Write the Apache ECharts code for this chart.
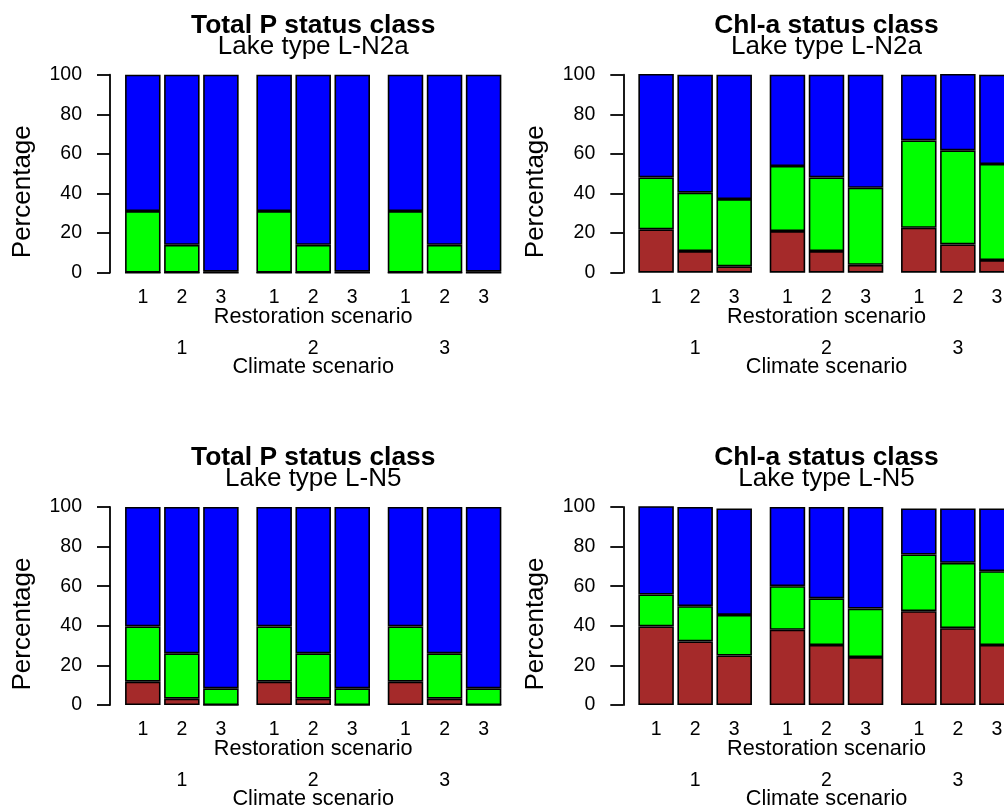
<!DOCTYPE html>
<html>
<head>
<meta charset="utf-8">
<script src="https://cdn.jsdelivr.net/npm/echarts@6/dist/echarts.min.js"></script>
<style>
  html, body { margin: 0; padding: 0; background: #ffffff; overflow: hidden; width: 1004px; height: 805px; }
  /* the right-hand panels run past the page edge, so the canvas is wider than the page */
  #chart { width: 1040px; height: 805px; }
</style>
</head>
<body>
<div id="chart"></div>
<script>
// Tick labels under the bars and under each bar group
const restorationLabels = ['1', '2', '3', '1', '2', '3', '1', '2', '3'];
const climateLabels = ['1', '2', '3'];

// Panel headings
const panelTitles = ['Total P status class', 'Chl-a status class', 'Total P status class', 'Chl-a status class'];
const lakeTypes = ['Lake type L-N2a', 'Lake type L-N2a', 'Lake type L-N5', 'Lake type L-N5'];

// Percentage of runs in each status class (segment heights, bottom to top:
// brown = poor, green = moderate, blue = good), one value per climate x restoration bar
const tpN2aBrown = [0, 0, 0, 0, 0, 0, 0, 0, 0];
const tpN2aGreen = [31.1, 14.1, 0.5, 31.1, 14.1, 0.5, 31.1, 14.1, 0.5];
const tpN2aBlue  = [68.9, 85.9, 99.5, 68.9, 85.9, 99.5, 68.9, 85.9, 99.5];

const chlN2aBrown = [21.9, 10.9, 3.2, 21.0, 10.9, 4.0, 22.7, 14.3, 6.4];
const chlN2aGreen = [26.2, 29.5, 34.0, 32.9, 37.2, 38.9, 44.1, 47.5, 48.5];
const chlN2aBlue  = [52.9, 59.6, 62.8, 46.1, 51.9, 57.1, 33.2, 39.2, 45.1];

const tpN5Brown = [11.8, 3.2, 0, 11.8, 3.2, 0, 11.8, 3.2, 0];
const tpN5Green = [27.9, 22.9, 8.4, 27.9, 22.9, 8.4, 27.9, 22.9, 8.4];
const tpN5Blue  = [60.3, 73.9, 91.6, 60.3, 73.9, 91.6, 60.3, 73.9, 91.6];

const chlN5Brown = [39.7, 32.1, 25.0, 38.0, 30.3, 24.2, 47.4, 38.8, 30.3];
const chlN5Green = [16.1, 17.8, 20.5, 22.0, 23.6, 24.5, 28.6, 33.0, 37.3];
const chlN5Blue  = [45.0, 50.1, 53.8, 40.0, 46.1, 51.3, 23.3, 27.5, 31.7];

const panelData = [
  [tpN2aBrown, tpN2aGreen, tpN2aBlue],
  [chlN2aBrown, chlN2aGreen, chlN2aBlue],
  [tpN5Brown, tpN5Green, tpN5Blue],
  [chlN5Brown, chlN5Green, chlN5Blue]
];

// ---- layout: bars of unit width, small space inside a group, wider between groups
const SPACE_IN = 0.1, SPACE_OUT = 0.5, GROUP_SIZE = 3;
const barCenters = [];
let pos = 0;
for (let i = 0; i < restorationLabels.length; i++) {
  pos += (i % GROUP_SIZE === 0) ? SPACE_OUT : SPACE_IN;
  barCenters.push(pos + 0.5);
  pos += 1;
}
const groupCenters = climateLabels.map((_, g) => barCenters[g * GROUP_SIZE + 1]);
const span = pos - SPACE_OUT;
const xMin = SPACE_OUT - 0.04 * span;
const xMax = pos + 0.04 * span;

const FONT = '"Liberation Sans", Arial, Helvetica, sans-serif';
const COLORS = ['#a52a2a', '#00ff00', '#0000ff'];
const GRID_LEFT = 110, GRID_TOP = 74.7, GRID_W = 406.4, GRID_H = 198;
const DX = 513.3, DY = 432.3;
const barPx = GRID_W / (xMax - xMin);

const grids = [], xAxes = [], yAxes = [], series = [], titles = [], graphics = [];

panelData.forEach((segments, p) => {
  const col = p % 2, row = Math.floor(p / 2);
  const left = GRID_LEFT + col * DX;
  const top = GRID_TOP + row * DY;
  const centerX = left + GRID_W / 2;

  grids.push({
    left: left, top: top, width: GRID_W, height: GRID_H,
    containLabel: false, outerBoundsMode: 'none'
  });

  // restoration scenario axis (one label per bar)
  xAxes.push({
    type: 'value', gridIndex: p, min: xMin, max: xMax, position: 'bottom',
    axisLine: { show: false }, axisTick: { show: false }, splitLine: { show: false },
    axisLabel: {
      customValues: barCenters, margin: 15,
      formatter: (v) => restorationLabels[barCenters.findIndex(c => Math.abs(c - v) < 1e-6)],
      color: '#000', fontSize: 19.5, fontFamily: FONT
    },
    name: 'Restoration scenario', nameLocation: 'middle', nameGap: 33, nameMoveOverlap: false,
    nameTextStyle: { color: '#000', fontSize: 21.7, fontFamily: FONT }
  });
  // climate scenario axis (one label per group)
  xAxes.push({
    type: 'value', gridIndex: p, min: xMin, max: xMax, position: 'bottom', offset: 51,
    axisLine: { show: false }, axisTick: { show: false }, splitLine: { show: false },
    axisLabel: {
      customValues: groupCenters, margin: 15,
      formatter: (v) => climateLabels[groupCenters.findIndex(c => Math.abs(c - v) < 1e-6)],
      color: '#000', fontSize: 19.5, fontFamily: FONT
    },
    name: 'Climate scenario', nameLocation: 'middle', nameGap: 32, nameMoveOverlap: false,
    nameTextStyle: { color: '#000', fontSize: 21.7, fontFamily: FONT }
  });

  yAxes.push({
    type: 'value', gridIndex: p, min: 0, max: 100, interval: 20,
    axisLine: { show: true, lineStyle: { color: '#000', width: 1.8 } },
    axisTick: { show: true, inside: false, length: 13, lineStyle: { color: '#000', width: 1.8 } },
    splitLine: { show: false },
    axisLabel: { margin: 28, color: '#000', fontSize: 19.5, fontFamily: FONT }
  });

  segments.forEach((vals, s) => {
    series.push({
      type: 'bar', name: 'class' + s, stack: 'panel' + p,
      xAxisIndex: p * 2, yAxisIndex: p,
      barWidth: barPx,
      // value first so the stack accumulates along the percentage axis
      encode: { x: 1, y: 0 },
      itemStyle: { color: COLORS[s], borderColor: '#000', borderWidth: 1.6 },
      data: vals.map((v, i) => [v, barCenters[i]]),
      animation: false
    });
  });

  titles.push({
    text: panelTitles[p], left: centerX, top: 12.5 + row * DY, textAlign: 'center', padding: 0,
    textStyle: { color: '#000', fontSize: 26.4, fontWeight: 'bold', fontFamily: FONT }
  });
  titles.push({
    text: lakeTypes[p], left: centerX, top: 34 + row * DY, textAlign: 'center', padding: 0,
    textStyle: { color: '#000', fontSize: 26, fontWeight: 'normal', fontFamily: FONT }
  });

  graphics.push({
    type: 'text', x: 22.5 + col * DX, y: 191.7 + row * DY, rotation: Math.PI / 2,
    style: {
      text: 'Percentage', fill: '#000', font: '26px ' + FONT,
      textAlign: 'center', textVerticalAlign: 'middle'
    }
  });
});

const chart = echarts.init(document.getElementById('chart'), null, { renderer: 'canvas' });
chart.setOption({
  backgroundColor: '#ffffff',
  animation: false,
  title: titles,
  grid: grids,
  xAxis: xAxes,
  yAxis: yAxes,
  series: series,
  graphic: graphics,
  tooltip: { show: false }
});
</script>
</body>
</html>
